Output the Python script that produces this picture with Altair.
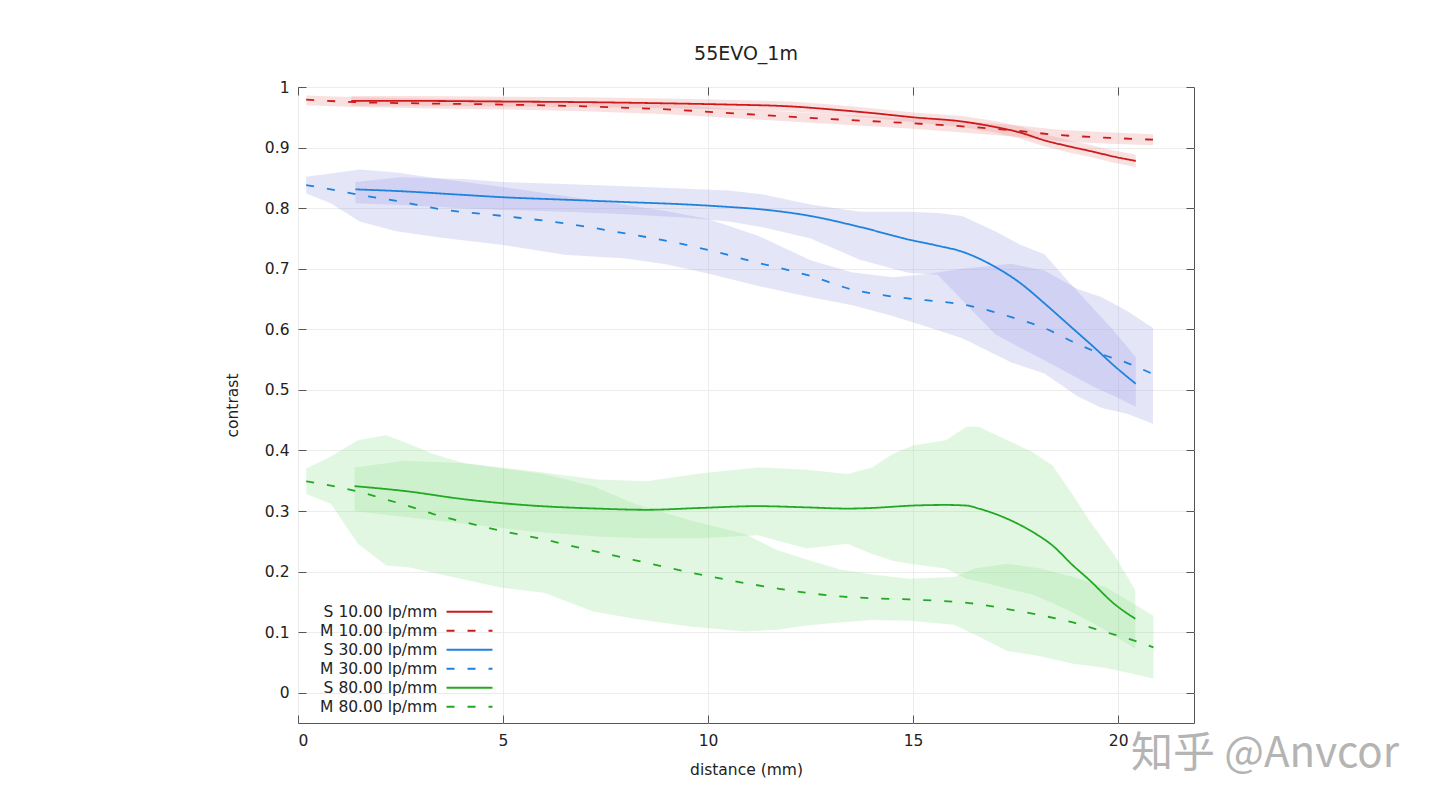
import altair as alt
import pandas as pd

# --- values: distance (mm) vs contrast ---
SERIES = ['S 10.00 lp/mm', 'M 10.00 lp/mm', 'S 30.00 lp/mm',
          'M 30.00 lp/mm', 'S 80.00 lp/mm', 'M 80.00 lp/mm']
X_TICKS = [0, 5, 10, 15, 20]
Y_TICKS = [0, 0.1, 0.2, 0.3, 0.4, 0.5, 0.6, 0.7, 0.8, 0.9, 1]

# S 10 lp/mm
s10_x = [1.3, 3, 5, 7, 9, 10.5, 12, 13, 14, 15, 16.2, 17, 17.6, 18.2, 18.8, 19.4, 19.9, 20.43]
s10_mid = [0.977, 0.977, 0.976, 0.975, 0.973, 0.971, 0.968, 0.963, 0.957, 0.950, 0.943, 0.934, 0.925, 0.912, 0.902, 0.893, 0.885, 0.878]
s10_lo = [0.969, 0.969, 0.968, 0.967, 0.965, 0.963, 0.960, 0.955, 0.949, 0.942, 0.934, 0.925, 0.915, 0.902, 0.892, 0.883, 0.875, 0.868]
s10_hi = [0.985, 0.985, 0.984, 0.983, 0.981, 0.979, 0.976, 0.971, 0.965, 0.958, 0.952, 0.944, 0.935, 0.922, 0.912, 0.903, 0.895, 0.888]

# M 10 lp/mm
m10_x = [0.2, 1.4, 3, 5, 7, 9, 11, 13, 15, 16.2, 17.5, 18.5, 19.5, 20.85]
m10_mid = [0.979, 0.975, 0.973, 0.971, 0.968, 0.963, 0.955, 0.947, 0.940, 0.935, 0.928, 0.921, 0.917, 0.913]
m10_lo = [0.970, 0.967, 0.965, 0.963, 0.960, 0.955, 0.947, 0.939, 0.931, 0.925, 0.918, 0.911, 0.907, 0.904]
m10_hi = [0.986, 0.983, 0.981, 0.979, 0.976, 0.971, 0.963, 0.955, 0.948, 0.944, 0.937, 0.930, 0.926, 0.922]

# S 30 lp/mm
s30_x = [1.4, 2.5, 4, 5, 6.5, 8, 9.5, 10.5, 11.3, 12.5, 13.7, 14.9, 15.6, 16.2, 17.0, 17.6, 18.2, 18.8, 19.4, 19.9, 20.43]
s30_mid = [0.831, 0.828, 0.822, 0.818, 0.814, 0.810, 0.806, 0.802, 0.798, 0.787, 0.769, 0.748, 0.738, 0.728, 0.703, 0.677, 0.643, 0.607, 0.571, 0.540, 0.510]
s30_lo = [0.808, 0.805, 0.800, 0.797, 0.794, 0.790, 0.784, 0.778, 0.769, 0.750, 0.715, 0.693, 0.690, 0.648, 0.592, 0.570, 0.549, 0.527, 0.505, 0.490, 0.472]
s30_hi = [0.843, 0.851, 0.848, 0.843, 0.840, 0.836, 0.832, 0.829, 0.823, 0.806, 0.794, 0.794, 0.792, 0.787, 0.762, 0.740, 0.724, 0.678, 0.634, 0.597, 0.554]

# M 30 lp/mm
m30_x = [0.2, 0.8, 1.5, 2.4, 3.5, 5, 6.5, 8, 9, 10, 11.2, 12.5, 13.5, 14.5, 15.3, 16.2, 17.4, 18.2, 19.0, 19.6, 20.2, 20.85]
m30_mid = [0.838, 0.831, 0.822, 0.812, 0.798, 0.787, 0.775, 0.758, 0.746, 0.731, 0.710, 0.688, 0.666, 0.654, 0.648, 0.641, 0.620, 0.602, 0.576, 0.559, 0.545, 0.526]
m30_lo = [0.824, 0.808, 0.778, 0.762, 0.751, 0.739, 0.723, 0.717, 0.707, 0.692, 0.672, 0.653, 0.640, 0.622, 0.605, 0.585, 0.545, 0.527, 0.490, 0.470, 0.461, 0.444]
m30_hi = [0.852, 0.857, 0.864, 0.859, 0.848, 0.835, 0.820, 0.805, 0.795, 0.782, 0.755, 0.714, 0.694, 0.686, 0.691, 0.700, 0.708, 0.697, 0.667, 0.653, 0.631, 0.602]

# S 80 lp/mm
s80_x = [1.38, 2.6, 4.1, 5.7, 7.3, 8.5, 9.8, 11.2, 12.4, 13.4, 14.0, 14.5, 15.0, 15.8, 16.3, 16.6, 17.3, 17.9, 18.4, 18.9, 19.3, 19.9, 20.42]
s80_mid = [0.341, 0.333, 0.319, 0.309, 0.304, 0.302, 0.305, 0.308, 0.306, 0.304, 0.305, 0.307, 0.309, 0.310, 0.309, 0.304, 0.287, 0.266, 0.243, 0.210, 0.186, 0.147, 0.122]
s80_lo = [0.300, 0.290, 0.279, 0.266, 0.258, 0.255, 0.255, 0.260, 0.238, 0.246, 0.229, 0.218, 0.212, 0.205, 0.188, 0.184, 0.172, 0.162, 0.148, 0.132, 0.118, 0.095, 0.072]
s80_hi = [0.372, 0.383, 0.379, 0.366, 0.352, 0.349, 0.362, 0.372, 0.368, 0.361, 0.372, 0.394, 0.408, 0.417, 0.439, 0.439, 0.417, 0.398, 0.375, 0.326, 0.284, 0.228, 0.169]

# M 80 lp/mm
m80_x = [0.2, 0.8, 1.46, 2.15, 2.7, 3.3, 4.1, 4.9, 6.0, 7.2, 8.2, 9.6, 10.9, 11.7, 12.4, 13.2, 14.0, 14.9, 16.0, 16.5, 17.3, 18.1, 18.9, 19.7, 20.3, 20.86]
m80_mid = [0.349, 0.342, 0.332, 0.319, 0.308, 0.295, 0.281, 0.268, 0.253, 0.234, 0.219, 0.198, 0.181, 0.172, 0.165, 0.159, 0.156, 0.154, 0.150, 0.147, 0.138, 0.128, 0.116, 0.100, 0.088, 0.075]
m80_lo = [0.328, 0.312, 0.246, 0.210, 0.207, 0.198, 0.186, 0.174, 0.165, 0.134, 0.122, 0.109, 0.101, 0.104, 0.111, 0.116, 0.120, 0.119, 0.112, 0.096, 0.069, 0.060, 0.048, 0.041, 0.032, 0.023]
m80_hi = [0.370, 0.390, 0.417, 0.425, 0.411, 0.394, 0.378, 0.371, 0.361, 0.341, 0.312, 0.284, 0.262, 0.235, 0.220, 0.204, 0.195, 0.188, 0.191, 0.205, 0.213, 0.205, 0.191, 0.174, 0.150, 0.127]

WATERMARK = ['知乎 @Anvcor']

# styles
LINE_COLORS = ['#cc1a1a', '#cc1a1a', '#1f82dc', '#1f82dc', '#22a822', '#22a822']
BAND_COLORS = ['#e78787', '#e78787', '#9797e3', '#9797e3', '#8bdf8b', '#8bdf8b']
DASHES = [[1, 0], [8, 13], [1, 0], [8, 13], [1, 0], [8, 13]]
FONT = 'DejaVu Sans'


def series_frame(name, xs, mid, lo, hi):
    return pd.DataFrame({'series': name, 'band': 'band ' + name,
                         'x': xs, 'mid': mid, 'lo': lo, 'hi': hi})


df = pd.concat([
    series_frame(SERIES[0], s10_x, s10_mid, s10_lo, s10_hi),
    series_frame(SERIES[1], m10_x, m10_mid, m10_lo, m10_hi),
    series_frame(SERIES[2], s30_x, s30_mid, s30_lo, s30_hi),
    series_frame(SERIES[3], m30_x, m30_mid, m30_lo, m30_hi),
    series_frame(SERIES[4], s80_x, s80_mid, s80_lo, s80_hi),
    series_frame(SERIES[5], m80_x, m80_mid, m80_lo, m80_hi),
], ignore_index=True)
# a separate domain for the band fills, so their hidden legend is not merged with the line legend
BANDS = ['band ' + s for s in SERIES]

x_scale = alt.Scale(domain=[0, 21.85], nice=False, zero=False)
y_scale = alt.Scale(domain=[-0.05, 1.0], nice=False, zero=False)

# gnuplot style key: label on the left, line sample on the right
# (schema wants labelOffset >= 0, an expression gets round that)
legend_opts = dict(
    orient='none', legendX=15, legendY=517, title=None, padding=0,
    labelAlign='right', labelOffset={'expr': '-40'}, symbolOffset=148.75,
    symbolType='M-4,0H4', symbolSize=132, symbolStrokeWidth=2,
    labelFont=FONT, labelFontSize=15.5, labelColor='#222222',
    rowPadding=2, labelLimit=300,
)

# confidence bands
bands = alt.Chart(df).mark_area(opacity=0.25).encode(
    x=alt.X('x:Q', scale=x_scale,
            axis=alt.Axis(title='distance (mm)', values=X_TICKS, format='d',
                          grid=True, offset=-8, domain=False,
                          labelPadding=10, titlePadding=14)),
    y=alt.Y('lo:Q', scale=y_scale,
            axis=alt.Axis(title='contrast', values=Y_TICKS, format='~g',
                          grid=True, offset=-8, domain=False,
                          labelPadding=9, titlePadding=24)),
    y2='hi:Q',
    fill=alt.Fill('band:N', scale=alt.Scale(domain=BANDS, range=BAND_COLORS), legend=None),
)

# mean curves, with mirrored inner ticks on top / right
lines = alt.Chart(df).mark_line(interpolate='monotone', strokeWidth=1.8).encode(
    x=alt.X('x:Q', scale=x_scale,
            axis=alt.Axis(orient='top', title=None, labels=False, values=X_TICKS,
                          grid=False, offset=-8, domain=False)),
    y=alt.Y('mid:Q', scale=y_scale,
            axis=alt.Axis(orient='right', title=None, labels=False, values=Y_TICKS,
                          grid=False, offset=-8, domain=False)),
    color=alt.Color('series:N', scale=alt.Scale(domain=SERIES, range=LINE_COLORS),
                    legend=alt.Legend(**legend_opts)),
    strokeDash=alt.StrokeDash('series:N', scale=alt.Scale(domain=SERIES, range=DASHES),
                              legend=alt.Legend(**legend_opts)),
)

mark = alt.Chart(pd.DataFrame({'t': WATERMARK})).mark_text(
    font='Noto Sans CJK SC', fontSize=42, color='#a8a8a8', opacity=0.85
).encode(text='t:N', x=alt.value(967), y=alt.value(667))

chart = alt.layer(bands, lines, mark).resolve_axis(
    x='independent', y='independent'
).properties(
    width=896, height=636,
    title=alt.Title('55EVO_1m', font=FONT, fontSize=19, fontWeight='normal',
                    color='#222222', offset=16),
    autosize=alt.AutoSizeParams(type='none'),
    padding={'left': 290, 'top': 79, 'right': 230, 'bottom': 70},
).configure_view(
    stroke='#555555', strokeWidth=1
).configure_axis(
    labelFont=FONT, labelFontSize=15.5, labelColor='#222222',
    titleFont=FONT, titleFontSize=15.5, titleFontWeight='normal', titleColor='#222222',
    tickColor='#555555', tickSize=8, tickWidth=1,
    gridColor='#ececec', gridWidth=1,
)

chart.save('out.html', embed_options={'renderer': 'svg', 'actions': False})
